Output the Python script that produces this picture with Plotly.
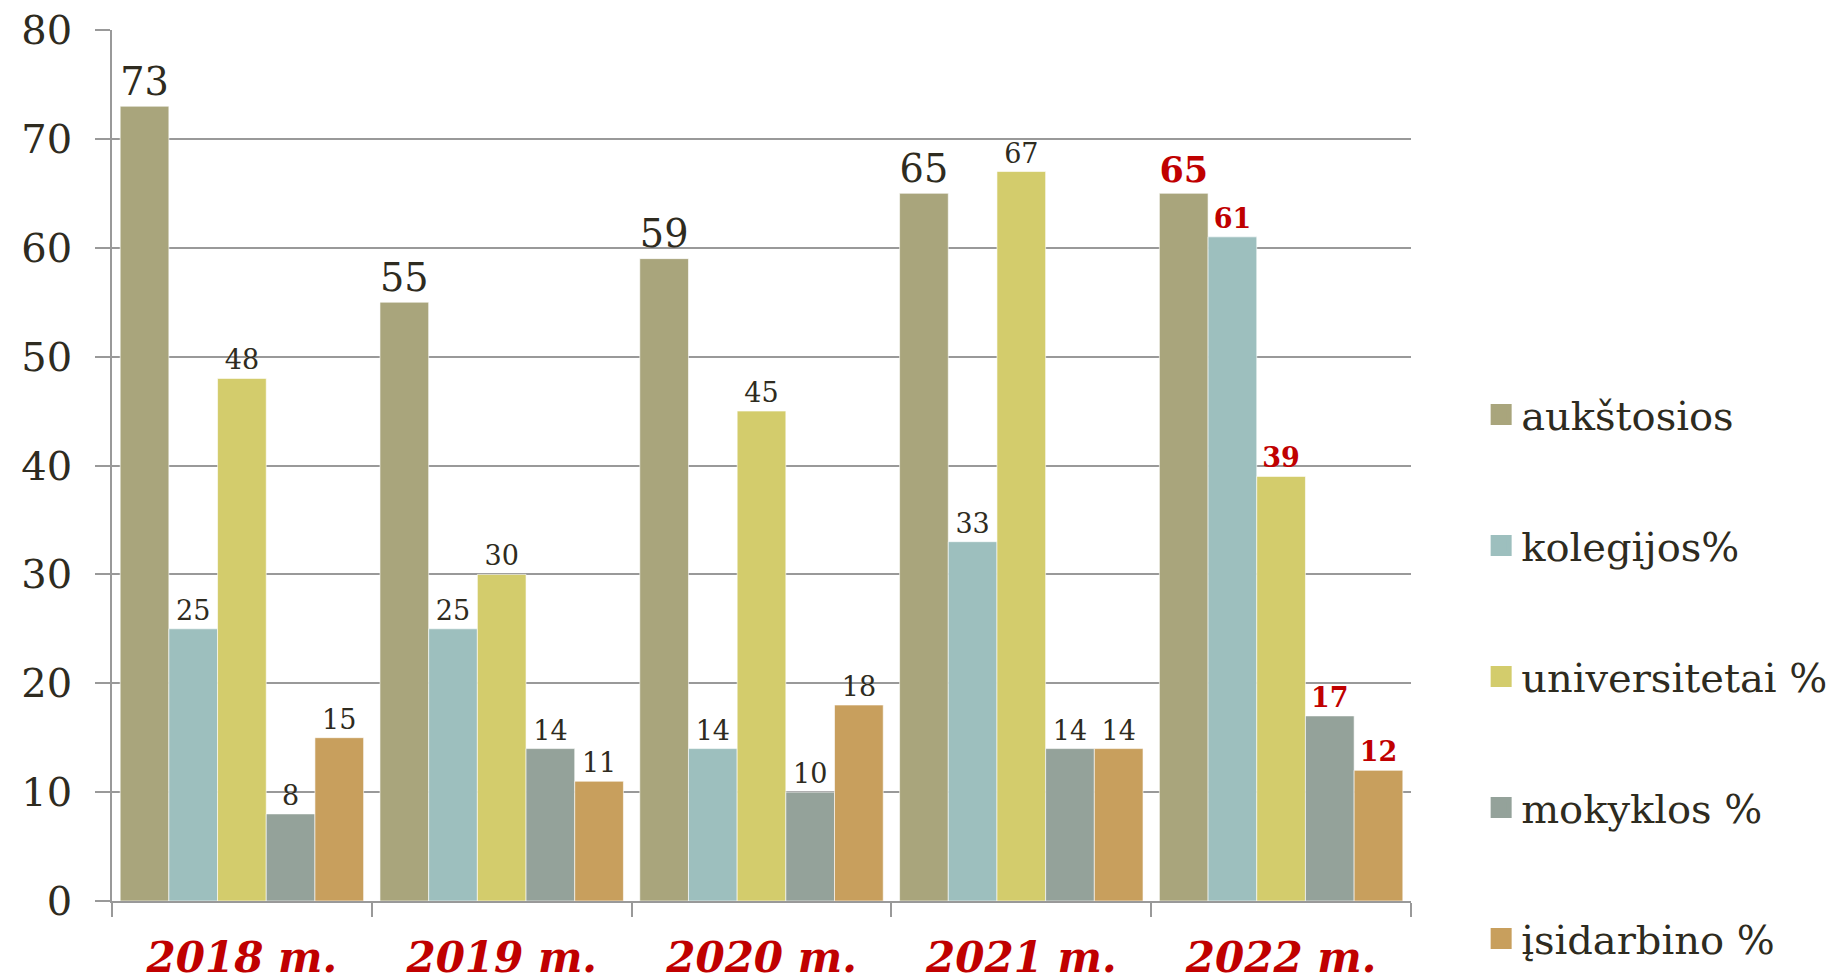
import plotly.graph_objects as go

categories = ["2018 m.", "2019 m.", "2020 m.", "2021 m.", "2022 m."]
series_names = ["aukštosios", "kolegijos%", "universitetai %", "mokyklos %", "įsidarbino %"]
aukstosios = [73, 55, 59, 65, 65]
kolegijos = [25, 25, 14, 33, 61]
universitetai = [48, 30, 45, 67, 39]
mokyklos = [8, 14, 10, 14, 17]
isidarbino = [15, 11, 18, 14, 12]
colors = ["#A9A57C", "#9DBFBE", "#D3CC6C", "#94A29A", "#C89F5D"]
y_ticks = [0, 10, 20, 30, 40, 50, 60, 70, 80]

FONT = "DejaVu Serif"
DARK = "#2E2B20"
RED = "#C00000"

all_series = [aukstosios, kolegijos, universitetai, mokyklos, isidarbino]

fig = go.Figure()
for i, (name, vals, col) in enumerate(zip(series_names, all_series, colors)):
    big = (i == 0)
    texts, sizes, tcols = [], [], []
    for j, v in enumerate(vals):
        last = (j == len(vals) - 1)
        texts.append(f"<b>{v}</b>" if last else str(v))
        sizes.append(40 if big else 27)
        tcols.append(RED if last else DARK)
    fig.add_trace(go.Bar(
        x=categories, y=vals, name=name, showlegend=False,
        marker=dict(color=col, line=dict(color="rgba(255,255,255,0.6)", width=1)),
        text=texts, textposition="outside", cliponaxis=False,
        textfont=dict(family=FONT, size=sizes, color=tcols),
    ))
    fig.add_trace(go.Scatter(
        x=[None], y=[None], mode="markers", name=name, legendgroup=f"g{i}",
        marker=dict(symbol="square", size=16, color=col, line=dict(color=col, width=6)),
    ))

fig.update_layout(
    width=1843, height=980,
    paper_bgcolor="white", plot_bgcolor="white",
    margin=dict(l=104, r=440, t=22, b=87, autoexpand=False),
    barmode="group", bargap=0.063, bargroupgap=0,
    font=dict(family=FONT, color=DARK),
    legend=dict(
        x=1.054, xanchor="left", y=0.596, yanchor="top",
        font=dict(family=FONT, size=40, color=DARK),
        tracegroupgap=76, itemsizing="trace",
        bgcolor="rgba(0,0,0,0)",
    ),
)
fig.update_xaxes(
    automargin=False,
    showline=True, linecolor="#999999", linewidth=1.5,
    ticks="outside", tickson="boundaries", ticklen=14, tickcolor="#999999", tickwidth=1.5,
    tickfont=dict(family=FONT, size=42, color=RED, weight="bold", style="italic"),
    ticklabelstandoff=19, ticklabeloverflow="allow",
    showgrid=False,
)
fig.update_yaxes(
    automargin=False,
    range=[0, 80], tickvals=y_ticks, ticktext=[str(t) for t in y_ticks],
    showline=True, linecolor="#999999", linewidth=1.5,
    ticks="outside", ticklen=15, tickcolor="#999999", tickwidth=1.5,
    gridcolor="#999999", gridwidth=1.5,
    tickfont=dict(family=FONT, size=40, color=DARK),
    ticklabelstandoff=15, ticklabeloverflow="allow",
    zeroline=False,
)

fig.write_html("out.html")
